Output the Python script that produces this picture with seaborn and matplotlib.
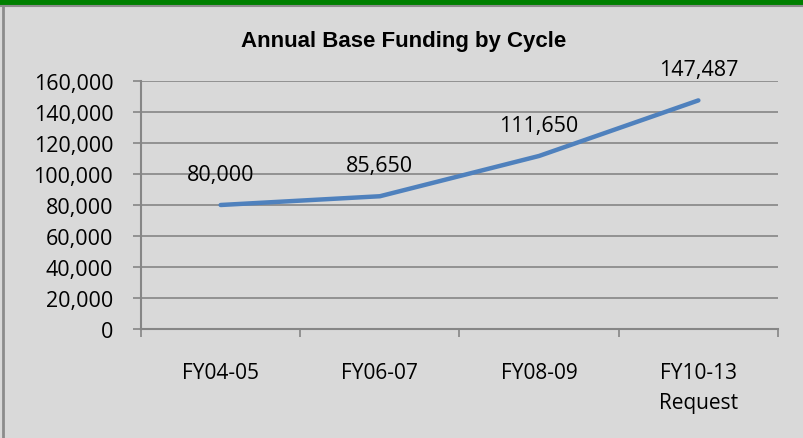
import matplotlib
matplotlib.use("Agg")
import matplotlib.pyplot as plt
import seaborn as sns
import pandas as pd
from matplotlib.patches import Rectangle
from matplotlib.ticker import FuncFormatter, FixedLocator

cycles = ["FY04-05", "FY06-07", "FY08-09", "FY10-13\nRequest"]
funding = [80000, 85650, 111650, 147487]
y_ticks = [0, 20000, 40000, 60000, 80000, 100000, 120000, 140000, 160000]

df = pd.DataFrame({"Cycle": cycles, "Funding": funding})

sns.set_theme(style="white")
plt.rcParams['font.family'] = ['Open Sans', 'DejaVu Sans']

bg = "#D9D9D9"
fig = plt.figure(figsize=(8.04, 4.39), dpi=100, facecolor=bg)

# green band + frame
fig.patches.append(Rectangle((0, 1 - 6 / 439), 1, 6 / 439, transform=fig.transFigure,
                             facecolor="#008000", edgecolor="none", zorder=0))
fig.add_artist(plt.Line2D([0, 1], [1 - 7 / 439, 1 - 7 / 439], color="#8C8C8C", lw=1.5,
                          transform=fig.transFigure))
fig.add_artist(plt.Line2D([3.5 / 804, 3.5 / 804], [0, 1 - 7 / 439], color="#8C8C8C", lw=2,
                          transform=fig.transFigure))

ax = fig.add_axes([141 / 804, 1 - 330 / 439, (778 - 141) / 804, (330 - 82) / 439])
ax.set_facecolor(bg)

sns.lineplot(data=df, x="Cycle", y="Funding", ax=ax, color="#4F81BD", linewidth=3.2,
             solid_capstyle="round", sort=False)

ax.set_xlim(-0.5, len(cycles) - 0.5)
ax.set_ylim(0, 160000)
ax.set_yticks(y_ticks)
ax.yaxis.set_major_formatter(FuncFormatter(lambda v, p: f"{int(v):,}"))
ax.grid(axis="y", color="#868686", linewidth=1.2)
ax.set_axisbelow(True)

ax.set_xticks(range(len(cycles)))
ax.set_xticklabels(cycles, linespacing=1.55, va="top")
ax.xaxis.set_minor_locator(FixedLocator([i - 0.5 for i in range(len(cycles) + 1)]))
ax.tick_params(axis="x", which="major", length=0, pad=24, labelsize=15, labelcolor="#000000")
ax.tick_params(axis="x", which="minor", length=6, width=1.2, color="#868686", direction="out", bottom=True)
ax.tick_params(axis="y", length=6, width=1.2, color="#868686", direction="out", left=True,
               pad=14, labelsize=15.5, labelcolor="#000000")

for side in ["top", "right"]:
    ax.spines[side].set_visible(False)
for side in ["left", "bottom"]:
    ax.spines[side].set_color("#868686")
    ax.spines[side].set_linewidth(1.5)

ax.set_xlabel("")
ax.set_ylabel("")

for i, v in enumerate(funding):
    ax.annotate(f"{v:,}", (i, v), xytext=(0, 22), textcoords="offset points",
                ha="center", va="center", fontsize=15.5, color="#000000")

fig.text(404 / 804, 1 - 42 / 439, "Annual Base Funding by Cycle", ha="center", va="center",
         fontsize=16, fontweight="bold", color="#000000",
         family=["Liberation Sans", "DejaVu Sans"])

fig.savefig("out.png", dpi=100, facecolor=bg)
